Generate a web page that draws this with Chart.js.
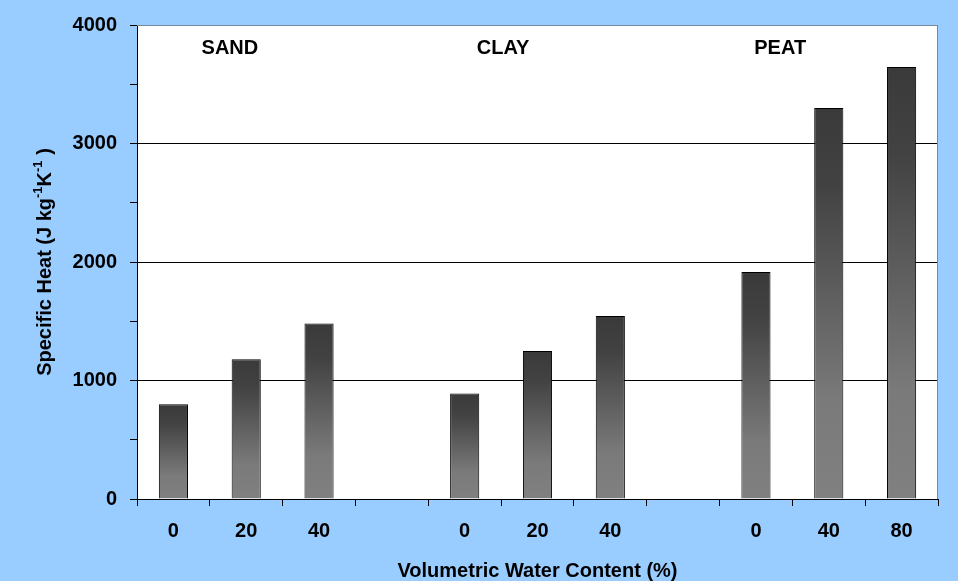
<!DOCTYPE html>
<html>
<head>
<meta charset="utf-8">
<script src="https://cdn.jsdelivr.net/npm/chart.js"></script>
<style>
  html, body { margin: 0; padding: 0; background: #99ccff; }
  #wrap { width: 958px; height: 581px; }
</style>
</head>
<body>
<div id="wrap"><canvas id="c"></canvas></div>
<script>
// water content labels per slot (blank slots separate the soil groups)
var waterContent = ['0', '20', '40', '', '0', '20', '40', '', '0', '40', '80'];
// specific heat, J kg-1 K-1
var specificHeat = [800, 1180, 1480, null, 890, 1250, 1545, null, 1915, 3300, 3645];
// soil group names and where they sit (fraction of plot width, value on y)
var groupNames = ['SAND', 'CLAY', 'PEAT'];
var groupPos = [0.116, 0.457, 0.803];
var groupLevel = 3800;

var FONT = 'Liberation Sans, Arial, sans-serif';

var barFill = function(ctx){
    var chart = ctx.chart;
    var y = chart.scales.y;
    if(!chart.chartArea || !y || ctx.raw == null) return '#555555';
    var top = y.getPixelForValue(ctx.raw);
    var bot = y.getPixelForValue(0);
    var g = chart.ctx.createLinearGradient(0, top, 0, bot);
    g.addColorStop(0, '#3a3a3a');
    g.addColorStop(0.2, '#424242');
    g.addColorStop(0.75, '#7a7a7a');
    g.addColorStop(1, '#808080');
    return g;
};

var decor = {
    id: 'decor',
    beforeDraw: function(chart){
        var c = chart.ctx, a = chart.chartArea;
        c.save();
        c.fillStyle = '#99ccff';
        c.fillRect(0, 0, chart.width, chart.height);
        c.fillStyle = '#ffffff';
        c.fillRect(a.left, a.top, a.right - a.left, a.bottom - a.top);
        c.restore();
    },
    afterDraw: function(chart){
        var c = chart.ctx, a = chart.chartArea;
        c.save();
        // top/right frame
        c.strokeStyle = '#778899';
        c.lineWidth = 1;
        c.beginPath();
        c.moveTo(a.left, a.top + 0.5);
        c.lineTo(a.right - 0.5, a.top + 0.5);
        c.lineTo(a.right - 0.5, a.bottom);
        c.stroke();

        c.fillStyle = '#000';
        c.textAlign = 'center';
        c.textBaseline = 'middle';
        c.font = 'bold 20px ' + FONT;
        var gy = chart.scales.y.getPixelForValue(groupLevel);
        for(var i in groupNames){
            c.fillText(groupNames[i], a.left + groupPos[i] * (a.right - a.left), gy);
        }

        // x title
        c.fillText('Volumetric Water Content (%)', (a.left + a.right) / 2, 571);

        // y title with superscripts
        var parts = [
            ['Specific Heat (J kg', false],
            ['-1', true],
            ['K', false],
            ['-1', true],
            [' )', false]
        ];
        var w = 0;
        for(var p in parts){
            c.font = parts[p][1] ? 'bold 13px ' + FONT : 'bold 20px ' + FONT;
            w += c.measureText(parts[p][0]).width;
        }
        c.translate(45, 262);
        c.rotate(-Math.PI / 2);
        c.textAlign = 'left';
        var x = -w / 2;
        for(var p in parts){
            c.font = parts[p][1] ? 'bold 13px ' + FONT : 'bold 20px ' + FONT;
            c.fillText(parts[p][0], x, parts[p][1] ? -7 : 0);
            x += c.measureText(parts[p][0]).width;
        }
        c.restore();
    }
};

new Chart(document.getElementById('c'), {
    type: 'bar',
    data: {
        labels: waterContent,
        datasets: [{
            data: specificHeat,
            backgroundColor: barFill,
            borderColor: '#000',
            borderWidth: 1,
            borderSkipped: 'bottom',
            categoryPercentage: 1,
            barPercentage: 0.4
        }]
    },
    options: {
        responsive: true,
        maintainAspectRatio: false,
        animation: false,
        layout: { padding: { top: 23, right: 20, left: 0, bottom: 0 } },
        plugins: { legend: { display: false }, tooltip: { enabled: false } },
        scales: {
            x: {
                offset: true,
                grid: { offset: true, drawOnChartArea: false, drawTicks: true, tickLength: 7, tickColor: '#000' },
                border: { display: true, color: '#000', width: 1 },
                ticks: { color: '#000', font: { family: FONT, size: 20, weight: 'bold' }, padding: 13, maxRotation: 0, autoSkip: false },
                afterFit: function(s){ s.height = 82; }
            },
            y: {
                min: 0,
                max: 4000,
                grid: {
                    color: function(ctx){
                        if(!ctx.tick) return 'transparent';
                        if(ctx.tick.value === 4000) return '#778899';
                        return ctx.tick.value % 1000 === 0 ? '#000' : 'transparent';
                    },
                    tickColor: '#000',
                    tickLength: 7,
                    lineWidth: 1
                },
                border: { display: true, color: '#000', width: 1 },
                ticks: {
                    stepSize: 500,
                    color: '#000',
                    padding: 13,
                    font: { family: FONT, size: 20, weight: 'bold' },
                    callback: function(v){ return v % 1000 === 0 ? v : ''; }
                },
                afterFit: function(s){ s.width = 137; }
            }
        }
    },
    plugins: [decor]
});
</script>
</body>
</html>
